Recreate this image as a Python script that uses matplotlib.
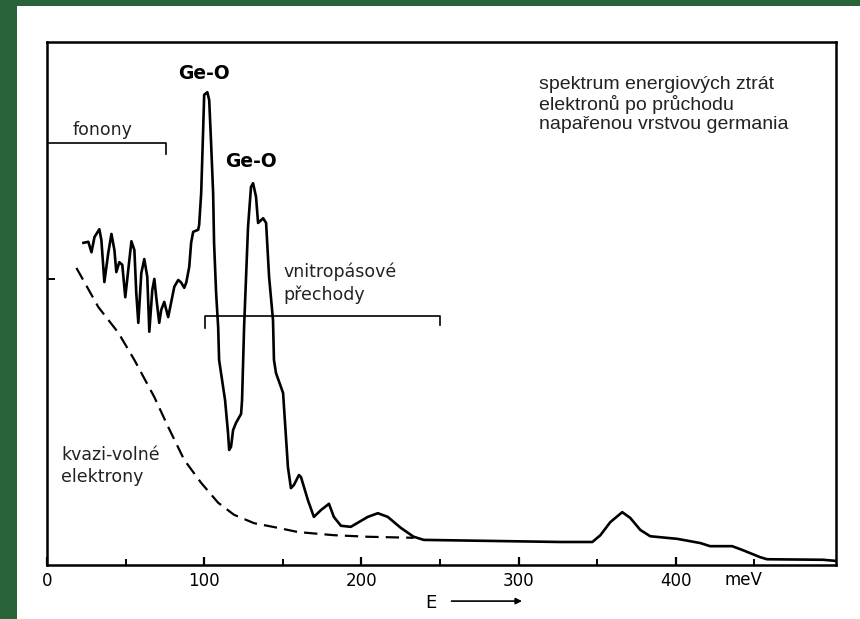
import matplotlib
matplotlib.use("Agg")
import matplotlib.pyplot as plt
from matplotlib.patches import Rectangle

# energy-loss spectrum of an evaporated germania layer (arbitrary intensity units)
spec_e = [23.2, 26.3, 28.3, 30.2, 33.3, 34.6, 36.5, 39.0, 41.0, 42.9, 44.1, 46.0,
          47.9, 49.8, 53.7, 55.6, 56.8, 58.1, 60.0, 61.9, 63.8, 65.1, 67.0, 68.3,
          69.5, 71.4, 72.7, 74.6, 77.1, 81.0, 83.5, 85.4, 87.3, 88.6, 90.5, 91.7,
          93.0, 96.2, 96.8, 98.1, 99.4, 100.0, 102.0, 103.2, 104.4, 105.7, 106.3,
          107.6, 108.9, 109.5, 113.3, 115.2, 115.9, 117.1, 118.4, 120.3, 123.5,
          124.1, 125.4, 127.9, 129.8, 131.1, 133.0, 134.3, 137.5, 139.4, 141.3,
          143.8, 144.4, 145.7, 150.2, 153.3, 155.2, 157.1, 160.3, 161.6, 166.0,
          169.8, 174.3, 179.4, 182.5, 187.0, 193.3, 204.1, 210.5, 216.8, 225.1,
          233.3, 239.7, 326.7, 347.0, 352.1, 358.4, 366.0, 371.1, 377.5, 383.8,
          401.0, 415.6, 421.9, 435.9, 442.2, 453.7, 458.1, 493.7, 501.3]
spec_i = [61.6, 61.8, 59.8, 62.7, 64.2, 62.1, 54.1, 59.7, 63.3, 60.2, 56.0, 57.9,
          57.4, 51.2, 61.9, 60.2, 52.0, 46.3, 55.8, 58.5, 55.1, 44.6, 52.6, 54.7,
          51.2, 46.3, 48.8, 50.3, 47.4, 53.2, 54.5, 54.0, 53.0, 54.0, 57.0, 61.6,
          63.7, 64.1, 65.0, 71.1, 83.7, 89.9, 90.4, 88.9, 80.7, 71.1, 61.6,
          52.0, 45.5, 39.2, 31.5, 25.2, 22.0, 22.6, 25.8, 27.2, 28.9,
          31.5, 45.5, 64.6, 72.3, 73.0, 70.4, 65.4, 66.3, 65.4, 55.1,
          46.8, 39.2, 36.7, 32.9, 18.7, 14.7, 15.3, 17.2, 16.8, 12.4,
          9.2, 10.5, 11.7, 9.2, 7.5, 7.3, 9.2, 9.9, 9.2, 7.1,
          5.4, 4.8, 4.4, 4.4, 5.7, 8.2, 10.1, 9.0, 6.7, 5.5,
          5.0, 4.2, 3.6, 3.6, 2.9, 1.5, 1.1, 1.0, 0.8]

# background of quasi-free electrons
free_e = [18.7, 21.9, 32.7, 45.4, 55.6, 68.3, 77.1, 87.3, 98.1, 108.9, 119.0,
          131.7, 147.0, 159.7, 182.5, 204.1, 233.3]
free_i = [56.8, 55.1, 49.3, 44.4, 39.2, 32.1, 26.4, 20.1, 15.7, 11.9, 9.6,
          8.0, 7.1, 6.3, 5.7, 5.4, 5.2]

phonon_range = (1, 76)
interband_range = (100.6, 250.3)
major_ticks = [0, 100, 200, 300, 400]
minor_ticks = [50, 150, 250, 350, 450]

W, H = 860, 619
fig = plt.figure(figsize=(W / 100, H / 100), dpi=100, facecolor="#28633a")
fig.patches.append(Rectangle((17 / W, 0), 1 - 17 / W, (H - 6) / H,
                             transform=fig.transFigure, facecolor="white",
                             edgecolor="none", zorder=-10))

ax = fig.add_axes([47 / W, (H - 565) / H, (836 - 47) / W, (565 - 42) / H])
ax.set_facecolor("white")
ax.set_xlim(0.95, 502)
ax.set_ylim(0, 100)

ax.plot(spec_e, spec_i, color="black", linewidth=1.9, solid_joinstyle="round")
dash, = ax.plot(free_e, free_i, color="black", linewidth=1.6)
dash.set_dashes((6, 3.2))

# region brackets
y0 = 80.7
ax.plot([phonon_range[0], phonon_range[1], phonon_range[1]], [y0, y0, y0 - 2.1],
        color="black", linewidth=1.2, clip_on=False)
y1 = 47.6
ax.plot([interband_range[0], interband_range[0], interband_range[1], interband_range[1]],
        [y1 - 2.2, y1, y1, y1 - 1.8], color="black", linewidth=1.2)

for s in ax.spines.values():
    s.set_linewidth(1.8)

ax.set_xticks(major_ticks)
ax.set_xticks(minor_ticks, minor=True)
ax.set_xticklabels([str(t) for t in major_ticks])
ax.tick_params(axis="x", which="major", direction="in", length=6, width=1.6,
               pad=5, labelsize=12)
ax.tick_params(axis="x", which="minor", direction="in", length=4, width=1.4)
ax.set_yticks([54.7])
ax.set_yticklabels([])
ax.tick_params(axis="y", direction="in", length=6, width=1.4)

xt = ax.get_xaxis_transform()
ax.text(443, -0.029, "meV", transform=xt, ha="center", va="center", fontsize=12)
ax.text(244, -0.073, "E", transform=xt, ha="center", va="center", fontsize=13)
ax.annotate("", xy=(304, -0.069), xytext=(255.6, -0.069),
            xycoords=xt, textcoords=xt,
            arrowprops=dict(arrowstyle="-|>", color="black", lw=1.2,
                            mutation_scale=9), annotation_clip=False)

ax.text(100, 93.9, "Ge-O", ha="center", va="center", fontsize=13.5,
        fontweight="bold")
ax.text(129.8, 77.1, "Ge-O", ha="center", va="center", fontsize=13.5,
        fontweight="bold")
ax.text(16.2, 83.2, "fonony", ha="left", va="center", fontsize=12.5,
        color="#222222")
ax.text(150.2, 53.8, "vnitropásové\npřechody", ha="left", va="center",
        fontsize=12.5, linespacing=1.3, color="#222222")
ax.text(9.2, 18.9, "kvazi-volné\nelektrony", ha="left", va="center",
        fontsize=12.5, linespacing=1.25, color="#222222")
ax.text(313.3, 88.0,
        "spektrum energiových ztrát\nelektronů po průchodu\nnapařenou vrstvou germania",
        ha="left", va="center", fontsize=14, linespacing=1.15,
        family="Liberation Sans", color="#222222")

fig.savefig("out.png", dpi=100, facecolor=fig.get_facecolor())
